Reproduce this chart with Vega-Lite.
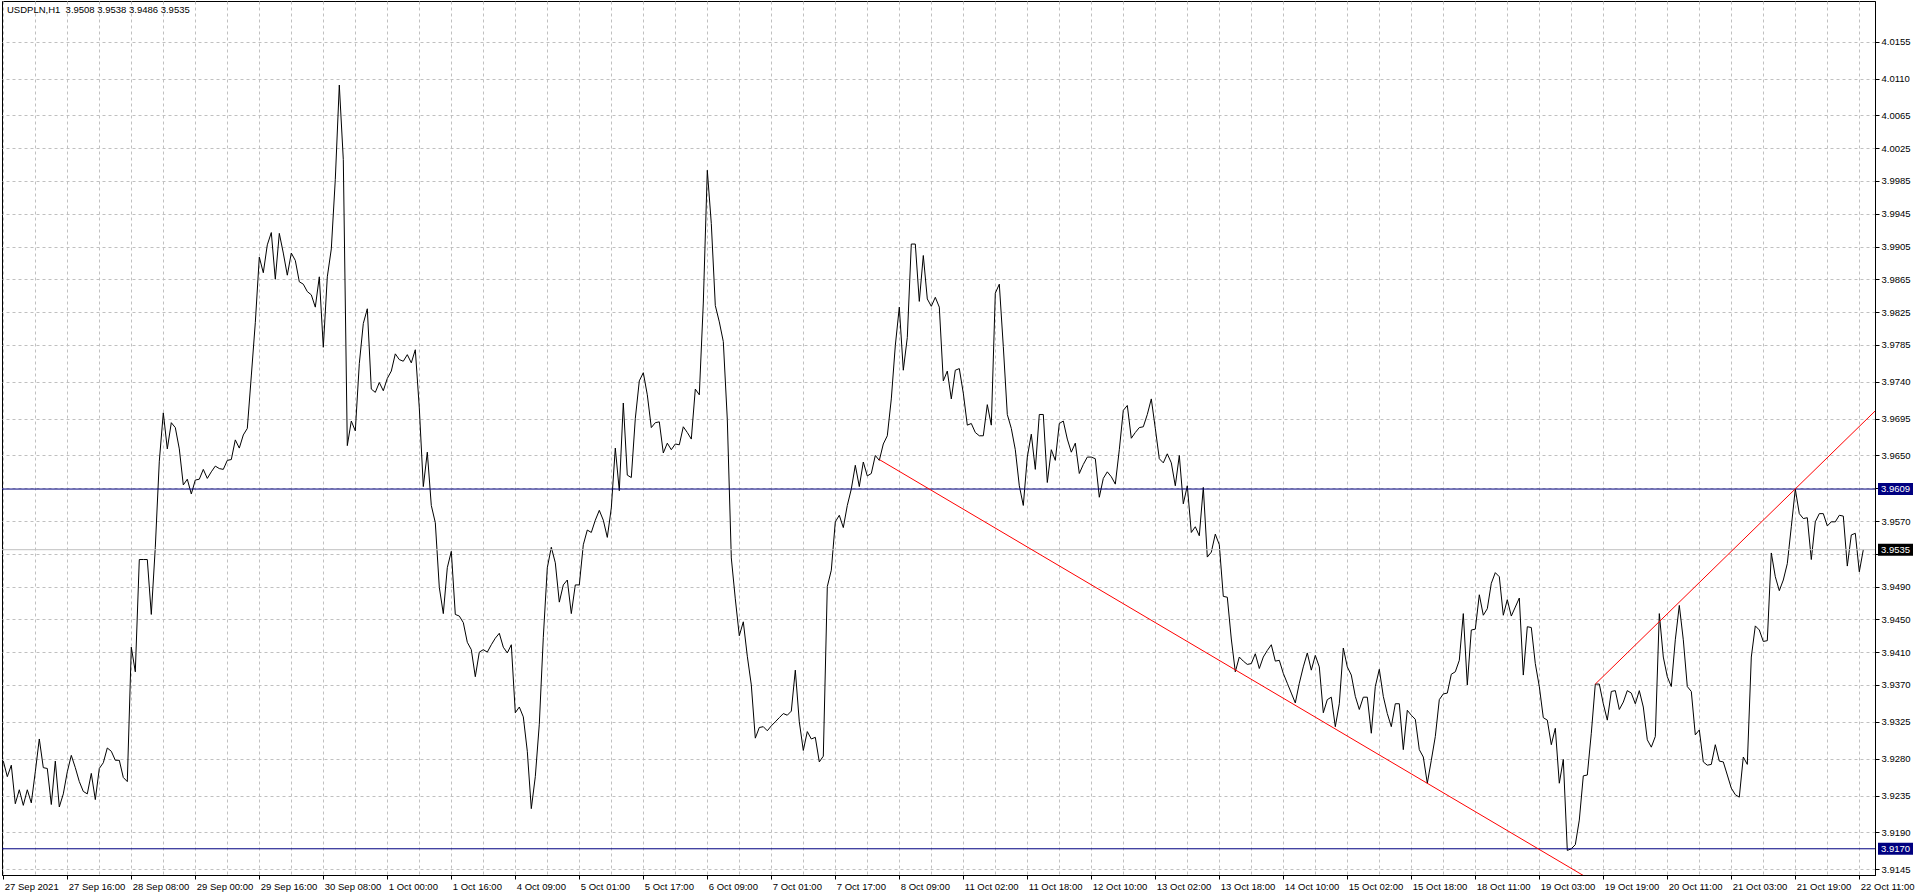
{
  "$schema": "https://vega.github.io/schema/vega-lite/v6.json",
  "width": 1873,
  "height": 874,
  "autosize": {"type": "none"},
  "padding": {"left": 2, "top": 1, "right": 41, "bottom": 21},
  "background": "#ffffff",
  "title": {"text": "USDPLN,H1 \u00a03.9508 3.9538 3.9486 3.9535", "anchor": "start", "frame": "group", "orient": "top", "offset": -13, "baseline": "alphabetic", "dx": 5, "dy": 8, "font": "Liberation Sans", "fontSize": 9.5, "fontWeight": "normal", "color": "#000000"},
  "config": {"view": {"stroke": "#000000", "strokeWidth": 1}, "font": "Liberation Sans", "axis": {"labelOverlap": false, "labelFlush": false, "labelBound": false, "title": null}},
  "datasets": {
    "price": [
      {"i":0,"v":3.9277},{"i":1,"v":3.9258},{"i":2,"v":3.9272},{"i":3,"v":3.9225},{"i":4,"v":3.9242},{"i":5,"v":3.9223},{"i":6,"v":3.9242},{"i":7,"v":3.9226},{"i":8,"v":3.9264},{"i":9,"v":3.9304},
      {"i":10,"v":3.9269},{"i":11,"v":3.9268},{"i":12,"v":3.9224},{"i":13,"v":3.9277},{"i":14,"v":3.9221},{"i":15,"v":3.9237},{"i":16,"v":3.9264},{"i":17,"v":3.9284},{"i":18,"v":3.9269},{"i":19,"v":3.9252},
      {"i":20,"v":3.924},{"i":21,"v":3.9237},{"i":22,"v":3.9262},{"i":23,"v":3.923},{"i":24,"v":3.9268},{"i":25,"v":3.9275},{"i":26,"v":3.9293},{"i":27,"v":3.9289},{"i":28,"v":3.9278},{"i":29,"v":3.9278},
      {"i":30,"v":3.9257},{"i":31,"v":3.9252},{"i":32,"v":3.9416},{"i":33,"v":3.9386},{"i":34,"v":3.9523},{"i":35,"v":3.9523},{"i":36,"v":3.9523},{"i":37,"v":3.9456},{"i":38,"v":3.9538},{"i":39,"v":3.9643},
      {"i":40,"v":3.9702},{"i":41,"v":3.9658},{"i":42,"v":3.969},{"i":43,"v":3.9684},{"i":44,"v":3.9658},{"i":45,"v":3.9614},{"i":46,"v":3.9621},{"i":47,"v":3.9603},{"i":48,"v":3.962},{"i":49,"v":3.9621},
      {"i":50,"v":3.9633},{"i":51,"v":3.9622},{"i":52,"v":3.963},{"i":53,"v":3.9637},{"i":54,"v":3.9634},{"i":55,"v":3.9633},{"i":56,"v":3.9644},{"i":57,"v":3.9645},{"i":58,"v":3.9669},{"i":59,"v":3.9659},
      {"i":60,"v":3.9675},{"i":61,"v":3.9683},{"i":62,"v":3.9747},{"i":63,"v":3.9812},{"i":64,"v":3.9892},{"i":65,"v":3.9873},{"i":66,"v":3.9907},{"i":67,"v":3.9922},{"i":68,"v":3.9865},{"i":69,"v":3.9921},
      {"i":70,"v":3.9897},{"i":71,"v":3.987},{"i":72,"v":3.9897},{"i":73,"v":3.9888},{"i":74,"v":3.9862},{"i":75,"v":3.9859},{"i":76,"v":3.985},{"i":77,"v":3.9846},{"i":78,"v":3.9831},{"i":79,"v":3.9868},
      {"i":80,"v":3.9782},{"i":81,"v":3.9868},{"i":82,"v":3.9902},{"i":83,"v":3.9987},{"i":84,"v":4.0102},{"i":85,"v":4.0011},{"i":86,"v":3.9662},{"i":87,"v":3.9692},{"i":88,"v":3.968},{"i":89,"v":3.9762},
      {"i":90,"v":3.9811},{"i":91,"v":3.9829},{"i":92,"v":3.9731},{"i":93,"v":3.9727},{"i":94,"v":3.9739},{"i":95,"v":3.9729},{"i":96,"v":3.9744},{"i":97,"v":3.9753},{"i":98,"v":3.9774},{"i":99,"v":3.9767},
      {"i":100,"v":3.9765},{"i":101,"v":3.9773},{"i":102,"v":3.9763},{"i":103,"v":3.9779},{"i":104,"v":3.9708},{"i":105,"v":3.9612},{"i":106,"v":3.9654},{"i":107,"v":3.9589},{"i":108,"v":3.9568},{"i":109,"v":3.9489},
      {"i":110,"v":3.9457},{"i":111,"v":3.9513},{"i":112,"v":3.9533},{"i":113,"v":3.9456},{"i":114,"v":3.9454},{"i":115,"v":3.9446},{"i":116,"v":3.9422},{"i":117,"v":3.9413},{"i":118,"v":3.938},{"i":119,"v":3.941},
      {"i":120,"v":3.9413},{"i":121,"v":3.941},{"i":122,"v":3.9419},{"i":123,"v":3.9427},{"i":124,"v":3.9433},{"i":125,"v":3.9416},{"i":126,"v":3.9409},{"i":127,"v":3.9419},{"i":128,"v":3.9336},{"i":129,"v":3.9343},
      {"i":130,"v":3.9331},{"i":131,"v":3.9289},{"i":132,"v":3.9219},{"i":133,"v":3.9258},{"i":134,"v":3.9322},{"i":135,"v":3.9428},{"i":136,"v":3.9513},{"i":137,"v":3.9538},{"i":138,"v":3.9519},{"i":139,"v":3.9471},
      {"i":140,"v":3.9492},{"i":141,"v":3.9498},{"i":142,"v":3.9457},{"i":143,"v":3.9492},{"i":144,"v":3.9492},{"i":145,"v":3.9541},{"i":146,"v":3.9559},{"i":147,"v":3.9556},{"i":148,"v":3.9571},{"i":149,"v":3.9583},
      {"i":150,"v":3.9571},{"i":151,"v":3.955},{"i":152,"v":3.9586},{"i":153,"v":3.9659},{"i":154,"v":3.9607},{"i":155,"v":3.9714},{"i":156,"v":3.9626},{"i":157,"v":3.9623},{"i":158,"v":3.9695},{"i":159,"v":3.9741},
      {"i":160,"v":3.9751},{"i":161,"v":3.9724},{"i":162,"v":3.9684},{"i":163,"v":3.969},{"i":164,"v":3.9691},{"i":165,"v":3.9653},{"i":166,"v":3.9665},{"i":167,"v":3.9657},{"i":168,"v":3.9664},{"i":169,"v":3.9663},
      {"i":170,"v":3.9685},{"i":171,"v":3.9678},{"i":172,"v":3.967},{"i":173,"v":3.9731},{"i":174,"v":3.9724},{"i":175,"v":3.9836},{"i":176,"v":3.9998},{"i":177,"v":3.9933},{"i":178,"v":3.9833},{"i":179,"v":3.9813},
      {"i":180,"v":3.9789},{"i":181,"v":3.9694},{"i":182,"v":3.9525},{"i":183,"v":3.9475},{"i":184,"v":3.943},{"i":185,"v":3.9447},{"i":186,"v":3.9405},{"i":187,"v":3.937},{"i":188,"v":3.9305},{"i":189,"v":3.9318},
      {"i":190,"v":3.9319},{"i":191,"v":3.9314},{"i":192,"v":3.932},{"i":193,"v":3.9325},{"i":194,"v":3.933},{"i":195,"v":3.9335},{"i":196,"v":3.9333},{"i":197,"v":3.9338},{"i":198,"v":3.9388},{"i":199,"v":3.9325},
      {"i":200,"v":3.929},{"i":201,"v":3.9313},{"i":202,"v":3.9304},{"i":203,"v":3.9306},{"i":204,"v":3.9276},{"i":205,"v":3.9283},{"i":206,"v":3.949},{"i":207,"v":3.951},{"i":208,"v":3.9569},{"i":209,"v":3.9577},
      {"i":210,"v":3.9562},{"i":211,"v":3.9589},{"i":212,"v":3.9609},{"i":213,"v":3.9638},{"i":214,"v":3.9612},{"i":215,"v":3.9642},{"i":216,"v":3.9625},{"i":217,"v":3.9628},{"i":218,"v":3.965},{"i":219,"v":3.9644},
      {"i":220,"v":3.9664},{"i":221,"v":3.9674},{"i":222,"v":3.9719},{"i":223,"v":3.9784},{"i":224,"v":3.9831},{"i":225,"v":3.9754},{"i":226,"v":3.9794},{"i":227,"v":3.9908},{"i":228,"v":3.9908},{"i":229,"v":3.9838},
      {"i":230,"v":3.9894},{"i":231,"v":3.9841},{"i":232,"v":3.9832},{"i":233,"v":3.9843},{"i":234,"v":3.9831},{"i":235,"v":3.9741},{"i":236,"v":3.9753},{"i":237,"v":3.9719},{"i":238,"v":3.9754},{"i":239,"v":3.9756},
      {"i":240,"v":3.9726},{"i":241,"v":3.9687},{"i":242,"v":3.9689},{"i":243,"v":3.9678},{"i":244,"v":3.9674},{"i":245,"v":3.9674},{"i":246,"v":3.9712},{"i":247,"v":3.9687},{"i":248,"v":3.9848},{"i":249,"v":3.9859},
      {"i":250,"v":3.9783},{"i":251,"v":3.97},{"i":252,"v":3.9683},{"i":253,"v":3.9657},{"i":254,"v":3.9613},{"i":255,"v":3.9589},{"i":256,"v":3.9648},{"i":257,"v":3.9676},{"i":258,"v":3.9633},{"i":259,"v":3.97},
      {"i":260,"v":3.97},{"i":261,"v":3.9617},{"i":262,"v":3.9657},{"i":263,"v":3.9644},{"i":264,"v":3.9689},{"i":265,"v":3.9692},{"i":266,"v":3.967},{"i":267,"v":3.9654},{"i":268,"v":3.9665},{"i":269,"v":3.9628},
      {"i":270,"v":3.9639},{"i":271,"v":3.9648},{"i":272,"v":3.9648},{"i":273,"v":3.9646},{"i":274,"v":3.9599},{"i":275,"v":3.9622},{"i":276,"v":3.963},{"i":277,"v":3.9624},{"i":278,"v":3.9615},{"i":279,"v":3.9657},
      {"i":280,"v":3.9705},{"i":281,"v":3.9711},{"i":282,"v":3.9671},{"i":283,"v":3.9678},{"i":284,"v":3.9684},{"i":285,"v":3.9685},{"i":286,"v":3.97},{"i":287,"v":3.9719},{"i":288,"v":3.9683},{"i":289,"v":3.9646},
      {"i":290,"v":3.9641},{"i":291,"v":3.9652},{"i":292,"v":3.9641},{"i":293,"v":3.9613},{"i":294,"v":3.965},{"i":295,"v":3.9591},{"i":296,"v":3.9613},{"i":297,"v":3.9556},{"i":298,"v":3.9563},{"i":299,"v":3.9552},
      {"i":300,"v":3.9611},{"i":301,"v":3.9526},{"i":302,"v":3.9532},{"i":303,"v":3.9554},{"i":304,"v":3.9541},{"i":305,"v":3.9478},{"i":306,"v":3.9477},{"i":307,"v":3.9426},{"i":308,"v":3.9386},{"i":309,"v":3.9404},
      {"i":310,"v":3.9399},{"i":311,"v":3.9395},{"i":312,"v":3.9396},{"i":313,"v":3.9408},{"i":314,"v":3.939},{"i":315,"v":3.9404},{"i":316,"v":3.9412},{"i":317,"v":3.9419},{"i":318,"v":3.9399},{"i":319,"v":3.94},
      {"i":320,"v":3.9384},{"i":321,"v":3.9372},{"i":322,"v":3.936},{"i":323,"v":3.9348},{"i":324,"v":3.9372},{"i":325,"v":3.9392},{"i":326,"v":3.9409},{"i":327,"v":3.9388},{"i":328,"v":3.9406},{"i":329,"v":3.9392},
      {"i":330,"v":3.9336},{"i":331,"v":3.9352},{"i":332,"v":3.9355},{"i":333,"v":3.9319},{"i":334,"v":3.9347},{"i":335,"v":3.9415},{"i":336,"v":3.9392},{"i":337,"v":3.9382},{"i":338,"v":3.9356},{"i":339,"v":3.934},
      {"i":340,"v":3.9355},{"i":341,"v":3.9355},{"i":342,"v":3.9311},{"i":343,"v":3.9368},{"i":344,"v":3.9389},{"i":345,"v":3.9356},{"i":346,"v":3.9335},{"i":347,"v":3.9319},{"i":348,"v":3.9347},{"i":349,"v":3.9347},
      {"i":350,"v":3.9291},{"i":351,"v":3.9339},{"i":352,"v":3.9333},{"i":353,"v":3.9328},{"i":354,"v":3.9291},{"i":355,"v":3.9282},{"i":356,"v":3.925},{"i":357,"v":3.9278},{"i":358,"v":3.9307},{"i":359,"v":3.9352},
      {"i":360,"v":3.9359},{"i":361,"v":3.936},{"i":362,"v":3.9383},{"i":363,"v":3.9386},{"i":364,"v":3.94},{"i":365,"v":3.9457},{"i":366,"v":3.937},{"i":367,"v":3.9437},{"i":368,"v":3.9438},{"i":369,"v":3.948},
      {"i":370,"v":3.9455},{"i":371,"v":3.9463},{"i":372,"v":3.9494},{"i":373,"v":3.9507},{"i":374,"v":3.9502},{"i":375,"v":3.9455},{"i":376,"v":3.9474},{"i":377,"v":3.9454},{"i":378,"v":3.9465},{"i":379,"v":3.9476},
      {"i":380,"v":3.9382},{"i":381,"v":3.9441},{"i":382,"v":3.944},{"i":383,"v":3.9396},{"i":384,"v":3.9368},{"i":385,"v":3.933},{"i":386,"v":3.9327},{"i":387,"v":3.9297},{"i":388,"v":3.9317},{"i":389,"v":3.925},
      {"i":390,"v":3.9279},{"i":391,"v":3.9168},{"i":392,"v":3.917},{"i":393,"v":3.9175},{"i":394,"v":3.9205},{"i":395,"v":3.9259},{"i":396,"v":3.926},{"i":397,"v":3.9311},{"i":398,"v":3.9371},{"i":399,"v":3.9371},
      {"i":400,"v":3.9347},{"i":401,"v":3.9327},{"i":402,"v":3.9362},{"i":403,"v":3.9363},{"i":404,"v":3.934},{"i":405,"v":3.9349},{"i":406,"v":3.9363},{"i":407,"v":3.936},{"i":408,"v":3.9347},{"i":409,"v":3.9363},
      {"i":410,"v":3.9343},{"i":411,"v":3.9303},{"i":412,"v":3.9294},{"i":413,"v":3.9307},{"i":414,"v":3.9457},{"i":415,"v":3.9404},{"i":416,"v":3.938},{"i":417,"v":3.9368},{"i":418,"v":3.9425},{"i":419,"v":3.9467},
      {"i":420,"v":3.9425},{"i":421,"v":3.9368},{"i":422,"v":3.9362},{"i":423,"v":3.9309},{"i":424,"v":3.9315},{"i":425,"v":3.9276},{"i":426,"v":3.9272},{"i":427,"v":3.9273},{"i":428,"v":3.9297},{"i":429,"v":3.9277},
      {"i":430,"v":3.9276},{"i":431,"v":3.926},{"i":432,"v":3.9244},{"i":433,"v":3.9236},{"i":434,"v":3.9233},{"i":435,"v":3.9282},{"i":436,"v":3.9273},{"i":437,"v":3.9404},{"i":438,"v":3.9442},{"i":439,"v":3.9437},
      {"i":440,"v":3.9423},{"i":441,"v":3.9424},{"i":442,"v":3.9531},{"i":443,"v":3.9502},{"i":444,"v":3.9485},{"i":445,"v":3.9498},{"i":446,"v":3.9518},{"i":447,"v":3.9563},{"i":448,"v":3.9609},{"i":449,"v":3.9579},
      {"i":450,"v":3.9573},{"i":451,"v":3.9574},{"i":452,"v":3.9523},{"i":453,"v":3.9569},{"i":454,"v":3.9579},{"i":455,"v":3.9579},{"i":456,"v":3.9564},{"i":457,"v":3.9569},{"i":458,"v":3.9569},{"i":459,"v":3.9577},
      {"i":460,"v":3.9576},{"i":461,"v":3.9515},{"i":462,"v":3.9553},{"i":463,"v":3.9555},{"i":464,"v":3.9508},{"i":465,"v":3.9535}
    ],
    "levels": [{"v": 3.9609}, {"v": 3.917}],
    "bid": [{"v": 3.9535}],
    "trend": [
      {"id": 1, "i": 219, "v": 3.9645}, {"id": 1, "i": 400, "v": 3.9123},
      {"id": 2, "i": 398, "v": 3.9371}, {"id": 2, "i": 470, "v": 3.9714}
    ],
    "tags": [
      {"v": 3.9609, "label": "3.9609", "kind": "level"},
      {"v": 3.917, "label": "3.9170", "kind": "level"},
      {"v": 3.9535, "label": "3.9535", "kind": "bid"}
    ]
  },
  "layer": [
    {
      "data": {"name": "price"},
      "mark": {"type": "line", "color": "#000000", "strokeWidth": 1, "clip": true},
      "encoding": {
        "x": {
          "field": "i", "type": "quantitative",
          "scale": {"domain": [-0.325, 467.925], "nice": false, "zero": false},
          "axis": {
            "orient": "bottom", "title": null, "tickCount": 200,
            "values": [0,8,16,24,32,40,48,56,64,72,80,88,96,104,112,120,128,136,144,152,160,168,176,184,192,200,208,216,224,232,240,248,256,264,272,280,288,296,304,312,320,328,336,344,352,360,368,376,384,392,400,408,416,424,432,440,448,456,464],
            "grid": true, "gridColor": "#c0c0c0", "gridDash": [3, 3], "gridWidth": 1,
            "domain": true, "domainColor": "#000000", "domainWidth": 1,
            "ticks": true, "tickColor": "#000000", "tickSize": 4, "tickWidth": 1,
            "tickOpacity": {"condition": {"test": "datum.value % 16 != 0", "value": 0}, "value": 1},
            "labelExpr": "datum.value % 16 == 0 ? ['27 Sep 2021','27 Sep 16:00','28 Sep 08:00','29 Sep 00:00','29 Sep 16:00','30 Sep 08:00','1 Oct 00:00','1 Oct 16:00','4 Oct 09:00','5 Oct 01:00','5 Oct 17:00','6 Oct 09:00','7 Oct 01:00','7 Oct 17:00','8 Oct 09:00','11 Oct 02:00','11 Oct 18:00','12 Oct 10:00','13 Oct 02:00','13 Oct 18:00','14 Oct 10:00','15 Oct 02:00','15 Oct 18:00','18 Oct 11:00','19 Oct 03:00','19 Oct 19:00','20 Oct 11:00','21 Oct 03:00','21 Oct 19:00','22 Oct 11:00'][datum.value / 16] : ''",
            "labelAlign": "left", "labelBaseline": "top", "labelPadding": 2, "labelOffset": 1,
            "labelFont": "Liberation Sans", "labelFontSize": 9.5, "labelColor": "#000000",
            "labelOverlap": false, "labelFlush": false, "labelBound": false
          }
        },
        "y": {
          "field": "v", "type": "quantitative",
          "scale": {"domain": [3.9138, 4.02046], "nice": false, "zero": false},
          "axis": {
            "orient": "right", "title": null, "tickCount": 200,
            "values": [4.0155,4.011,4.0065,4.0025,3.9985,3.9945,3.9905,3.9865,3.9825,3.9785,3.974,3.9695,3.965,3.961,3.957,3.953,3.949,3.945,3.941,3.937,3.9325,3.928,3.9235,3.919,3.9145],
            "labelExpr": "abs(datum.value - 3.961) < 0.00001 || abs(datum.value - 3.953) < 0.00001 ? '' : format(datum.value, '.4f')",
            "grid": true, "gridColor": "#c0c0c0", "gridDash": [3, 3], "gridWidth": 1,
            "domain": true, "domainColor": "#000000", "domainWidth": 1,
            "ticks": true, "tickColor": "#000000", "tickSize": 4, "tickWidth": 1,
            "labelAlign": "left", "labelBaseline": "middle", "labelPadding": 2,
            "labelFont": "Liberation Sans", "labelFontSize": 9.5, "labelColor": "#000000",
            "labelOverlap": false, "labelFlush": false, "labelBound": false
          }
        }
      }
    },
    {
      "data": {"name": "levels"},
      "mark": {"type": "rule", "color": "#000080", "strokeWidth": 1},
      "encoding": {"y": {"field": "v", "type": "quantitative"}}
    },
    {
      "data": {"name": "bid"},
      "mark": {"type": "rule", "color": "#c0c0c0", "strokeWidth": 1},
      "encoding": {"y": {"field": "v", "type": "quantitative"}}
    },
    {
      "data": {"name": "trend"},
      "mark": {"type": "line", "color": "#ff0000", "strokeWidth": 1, "clip": true},
      "encoding": {
        "x": {"field": "i", "type": "quantitative"},
        "y": {"field": "v", "type": "quantitative"},
        "detail": {"field": "id", "type": "nominal"}
      }
    },
    {
      "data": {"name": "tags"},
      "mark": {"type": "point", "shape": "M-1,-0.343H1V0.343H-1Z", "size": 1225, "filled": true, "opacity": 1, "strokeWidth": 0},
      "encoding": {
        "x": {"datum": 473.05, "type": "quantitative"},
        "y": {"field": "v", "type": "quantitative"},
        "color": {"field": "kind", "type": "nominal", "scale": {"domain": ["level", "bid"], "range": ["#000080", "#000000"]}, "legend": null}
      }
    },
    {
      "data": {"name": "tags"},
      "mark": {"type": "text", "color": "#ffffff", "align": "left", "baseline": "middle", "font": "Liberation Sans", "fontSize": 9.5},
      "encoding": {
        "x": {"datum": 469.425, "type": "quantitative"},
        "y": {"field": "v", "type": "quantitative"},
        "text": {"field": "label"}
      }
    }
  ]
}
